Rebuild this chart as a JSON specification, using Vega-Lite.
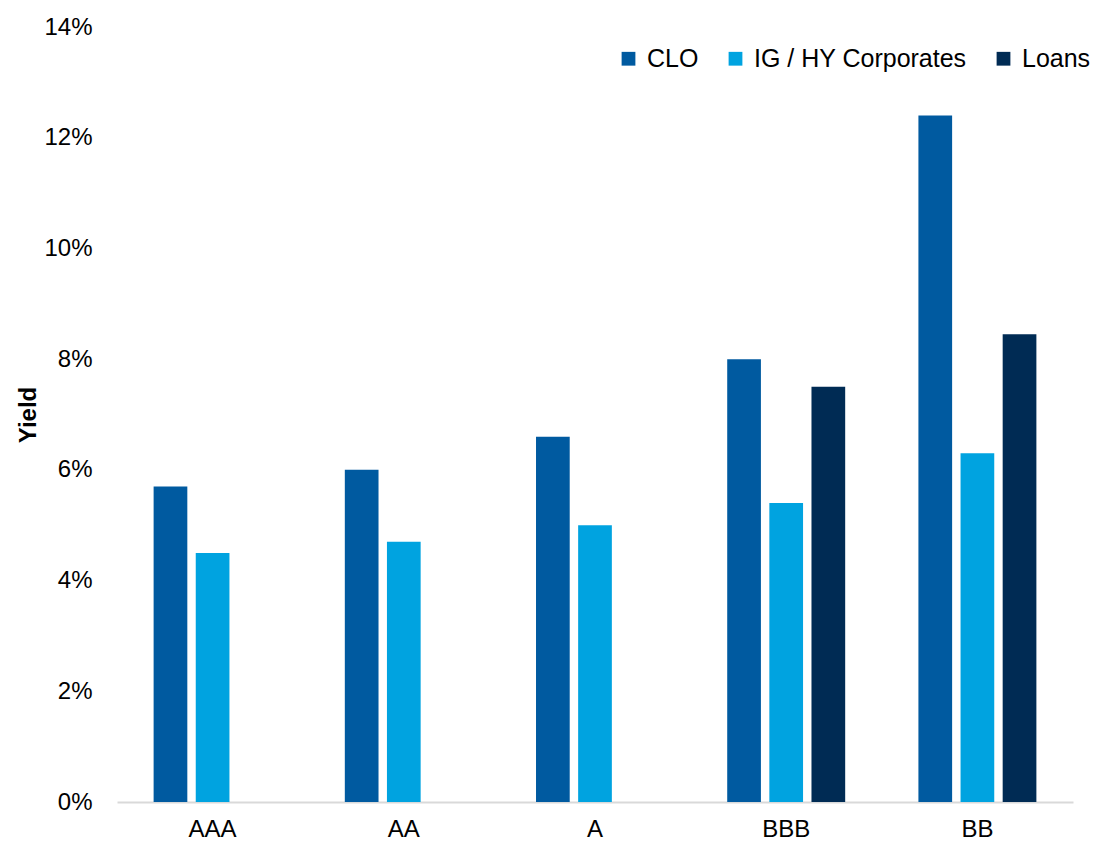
{
  "$schema": "https://vega.github.io/schema/vega-lite/v6.json",
  "width": 956,
  "height": 775,
  "autosize": {"type": "none"},
  "padding": {"left": 117, "top": 27, "right": 24, "bottom": 42},
  "background": "white",
  "config": {
    "view": {"stroke": null},
    "font": "Liberation Sans"
  },
  "data": {
    "values": [
      {"rating": "AAA", "series": "CLO", "yield": 0.057},
      {"rating": "AAA", "series": "IG / HY Corporates", "yield": 0.045},
      {"rating": "AA", "series": "CLO", "yield": 0.060},
      {"rating": "AA", "series": "IG / HY Corporates", "yield": 0.047},
      {"rating": "A", "series": "CLO", "yield": 0.066},
      {"rating": "A", "series": "IG / HY Corporates", "yield": 0.050},
      {"rating": "BBB", "series": "CLO", "yield": 0.080},
      {"rating": "BBB", "series": "IG / HY Corporates", "yield": 0.054},
      {"rating": "BBB", "series": "Loans", "yield": 0.075},
      {"rating": "BB", "series": "CLO", "yield": 0.124},
      {"rating": "BB", "series": "IG / HY Corporates", "yield": 0.063},
      {"rating": "BB", "series": "Loans", "yield": 0.0845}
    ]
  },
  "mark": {"type": "bar"},
  "encoding": {
    "x": {
      "field": "rating",
      "type": "nominal",
      "sort": ["AAA", "AA", "A", "BBB", "BB"],
      "scale": {"paddingInner": 0.383, "paddingOuter": 0.1915},
      "axis": {
        "title": null,
        "labelAngle": 0,
        "labelFontSize": 24,
        "labelColor": "#000000",
        "labelPadding": 15,
        "ticks": false,
        "domainColor": "#d9d9d9",
        "domainWidth": 2
      }
    },
    "xOffset": {
      "field": "series",
      "type": "nominal",
      "scale": {"domain": ["CLO", "IG / HY Corporates", "Loans"], "paddingInner": 0.2, "paddingOuter": 0}
    },
    "y": {
      "field": "yield",
      "type": "quantitative",
      "scale": {"domain": [0, 0.14], "nice": false},
      "axis": {
        "title": "Yield",
        "titleFontSize": 24,
        "titleFontWeight": "bold",
        "titleColor": "#000000",
        "titlePadding": 3,
        "format": ".0%",
        "values": [0, 0.02, 0.04, 0.06, 0.08, 0.10, 0.12, 0.14],
        "labelFontSize": 24,
        "labelColor": "#000000",
        "labelPadding": 25,
        "grid": false,
        "ticks": false,
        "domain": false
      }
    },
    "color": {
      "field": "series",
      "type": "nominal",
      "scale": {
        "domain": ["CLO", "IG / HY Corporates", "Loans"],
        "range": ["#005AA0", "#00A3E0", "#002B54"]
      },
      "legend": {
        "title": null,
        "orient": "none",
        "direction": "horizontal",
        "legendX": 499,
        "legendY": 19,
        "symbolType": "square",
        "symbolSize": 190,
        "symbolStrokeWidth": 0,
        "labelFontSize": 25,
        "labelColor": "#000000",
        "labelOffset": 6,
        "labelLimit": 400,
        "columnPadding": 24
      }
    }
  }
}
